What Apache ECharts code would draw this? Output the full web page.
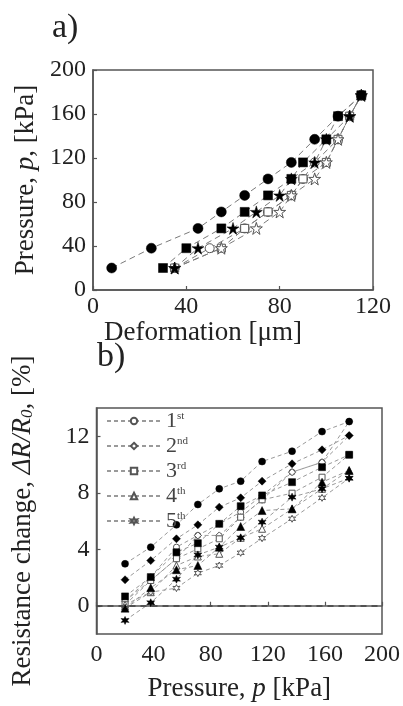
<!DOCTYPE html>
<html>
<head>
<meta charset="utf-8">
<script src="https://cdn.jsdelivr.net/npm/echarts@6/dist/echarts.min.js"></script>
<style>html,body{margin:0;padding:0;background:#fff}#c{width:403px;height:706px}</style>
</head>
<body>
<div id="c"></div>
<script>
// Shared pressure steps [kPa]
const pressure = [20, 38, 56, 71, 86, 101, 116, 137, 158, 177];

// Panel a) deformation [µm] at each pressure step
const defFilledCircle = [8, 25, 45, 55, 65, 75, 85, 95, 105, 115];
const defFilledSquare = [30, 40, 55, 65, 75, 85, 90, 100, 105, 115];
const defFilledStar   = [35, 45, 60, 70, 80, 85, 95, 100, 110, 115];
const defOpenCircle   = [35, 50, 65, 75, 85, 90, 95, 105, 110, 115];
const defOpenSquare   = [35, 55, 65, 75, 85, 90, 100, 105, 110, 115];
const defOpenStar     = [35, 55, 70, 80, 85, 95, 100, 105, 110, 115];

// Panel b) resistance change [%] – loading (filled markers)
const load1 = [2.97, 4.15, 5.73, 7.17, 8.28, 8.82, 10.21, 10.94, 12.33, 13.04];
const load2 = [1.84, 3.2, 4.74, 5.73, 6.98, 7.64, 8.82, 10.05, 11.04, 12.05];
const load3 = [0.66, 2.03, 3.79, 4.43, 5.8, 7.05, 7.81, 8.75, 9.81, 10.69];
const load4 = [-0.17, 1.27, 2.55, 2.85, 4.15, 5.61, 6.74, 6.86, 8.75, 9.58];
const load5 = [-1.04, 0.21, 1.88, 3.6, 4.15, 4.81, 5.92, 7.69, 8.28, 9.03];
// unloading (open markers, legend)
const cycle1 = [0.33, 2.03, 4.15, 4.98, 5.8, 6.63, 7.81, 9.46, 10.16, 13.04];
const cycle2 = [0.33, 1.79, 3.33, 4.98, 4.98, 6.27, 7.5, 9.46, 10.16, 12.05];
const cycle3 = [0.07, 1.79, 3.33, 4.03, 4.74, 6.27, 7.5, 7.97, 9.1, 10.69];
const cycle4 = [0.07, 0.96, 2.85, 3.49, 3.68, 4.81, 5.45, 6.86, 8.28, 9.58];
const cycle5 = [-0.17, 0.96, 1.25, 2.31, 2.85, 3.75, 4.78, 6.16, 7.64, 9.03];
const legendNames = ['1st', '2nd', '3rd', '4th', '5th'];

// Tick labels
const aXTicks = [0, 40, 80, 120];
const aYTicks = [0, 40, 80, 120, 160, 200];
const bXTicks = [0, 40, 80, 120, 160, 200];
const bYTicks = [0, 4, 8, 12];

const FONT = '"Liberation Serif", "DejaVu Serif", serif';
const STAR5 = 'path://M50,2 L61,37 L98,37 L68,59 L79,95 L50,73 L21,95 L32,59 L2,37 L39,37 Z';
const STAR6 = 'path://M50,0 L62,29 L93,25 L74,50 L93,75 L62,71 L50,100 L38,71 L7,75 L26,50 L7,25 L38,29 Z';

function pts(xs, ys) { return xs.map((x, i) => [x, ys[i]]); }

function ser(name, data, axis, symbol, filled, size, lineColor, dash, extra) {
  return Object.assign({
    name: name, type: 'line', xAxisIndex: axis, yAxisIndex: axis,
    data: data, symbol: symbol, symbolSize: size, showSymbol: true,
    animation: false, z: 3,
    lineStyle: { color: lineColor, width: 1, type: dash },
    itemStyle: filled ? { color: '#000', borderColor: '#000', borderWidth: 0.5 }
                      : { color: '#fff', borderColor: '#555', borderWidth: 1 }
  }, extra || {});
}

const aLine = '#7a7a7a', aDash = [6, 4];
const bLine = '#9a9a9a', bDash = [4, 3];

const series = [
  ser('a1', pts(defFilledCircle, pressure), 0, 'circle', true, 10, aLine, aDash),
  ser('a4', pts(defOpenCircle, pressure), 0, 'circle', false, 9, aLine, aDash),
  ser('a5', pts(defOpenSquare, pressure), 0, 'rect', false, 8, aLine, aDash),
  ser('a6', pts(defOpenStar, pressure), 0, STAR5, false, 12, aLine, aDash),
  ser('a2', pts(defFilledSquare, pressure), 0, 'rect', true, 9, aLine, aDash),
  ser('a3', pts(defFilledStar, pressure), 0, STAR5, true, 12, aLine, aDash),

  ser(legendNames[0], pts(pressure, cycle1), 1, 'circle', false, 6, bLine, bDash, {
    markLine: { silent: true, symbol: 'none', animation: false,
      label: { show: false },
      lineStyle: { color: '#444', width: 1.5, type: [6, 5] },
      data: [{ yAxis: 0 }] }
  }),
  ser(legendNames[1], pts(pressure, cycle2), 1, 'diamond', false, 7, bLine, bDash),
  ser(legendNames[2], pts(pressure, cycle3), 1, 'rect', false, 6, bLine, bDash),
  ser(legendNames[3], pts(pressure, cycle4), 1, 'triangle', false, 7, bLine, bDash),
  ser(legendNames[4], pts(pressure, cycle5), 1, STAR6, false, 7, bLine, bDash),
  ser('L1', pts(pressure, load1), 1, 'circle', true, 7, bLine, bDash),
  ser('L2', pts(pressure, load2), 1, 'diamond', true, 8, bLine, bDash),
  ser('L3', pts(pressure, load3), 1, 'rect', true, 7, bLine, bDash),
  ser('L4', pts(pressure, load4), 1, 'triangle', true, 8, bLine, bDash),
  ser('L5', pts(pressure, load5), 1, STAR6, true, 8, bLine, bDash)
];

const axisLineStyle = { show: true, lineStyle: { color: '#555', width: 1.5 } };
const tickStyle = { show: true, inside: true, length: 4, lineStyle: { color: '#555', width: 1.2 } };
const lblStyle = { fontFamily: FONT, fontSize: 24, color: '#222' };
const NS = 27;
const rich = {
  r: { fontFamily: FONT, fontSize: NS, color: '#222' },
  i: { fontFamily: FONT, fontSize: NS, fontStyle: 'italic', color: '#222' },
  sub: { fontFamily: FONT, fontSize: 17, fontStyle: 'italic', color: '#222', padding: [10, 0, 0, 0] }
};

const option = {
  backgroundColor: '#fff',
  animation: false,
  title: [
    { text: 'a)', left: 47, top: 6, textStyle: { fontFamily: FONT, fontSize: 34, fontWeight: 'normal', color: '#222' } },
    { text: 'b)', left: 92, top: 335, textStyle: { fontFamily: FONT, fontSize: 34, fontWeight: 'normal', color: '#222' } }
  ],
  grid: [
    { left: 93, top: 70, width: 280, height: 220, show: true, borderColor: '#555', borderWidth: 1.5, backgroundColor: 'transparent' },
    { left: 96.5, top: 408, width: 285.5, height: 226, show: true, borderColor: '#555', borderWidth: 1.5, backgroundColor: 'transparent' }
  ],
  legend: {
    data: legendNames,
    orient: 'vertical', left: 101, top: 405,
    itemWidth: 54, itemHeight: 8, itemGap: 3,
    formatter: function (n) { return '{n|' + n.charAt(0) + '}{s|' + n.slice(1) + '}'; },
    textStyle: {
      color: '#444', lineHeight: 19,
      rich: {
        n: { fontFamily: FONT, fontSize: 22, color: '#444', lineHeight: 19 },
        s: { fontFamily: FONT, fontSize: 11, color: '#444', padding: [0, 0, 9, 0] }
      }
    }
  },
  xAxis: [
    { type: 'value', gridIndex: 0, min: 0, max: 120, interval: 40,
      name: 'Deformation [μm]', nameLocation: 'middle', nameGap: 19,
      nameTextStyle: { fontFamily: FONT, fontSize: NS, color: '#222', padding: [0, 60, 0, 0] },
      axisLine: axisLineStyle, axisTick: tickStyle, splitLine: { show: false },
      axisLabel: Object.assign({ margin: 5, customValues: aXTicks }, lblStyle) },
    { type: 'value', gridIndex: 1, min: 0, max: 200, interval: 40,
      name: '{r|Pressure, }{i|p}{r| [kPa]}', nameLocation: 'middle', nameGap: 41,
      nameTextStyle: { rich: rich },
      axisLine: axisLineStyle, axisTick: tickStyle, splitLine: { show: false },
      axisLabel: Object.assign({ margin: 9, customValues: bXTicks }, lblStyle) }
  ],
  yAxis: [
    { type: 'value', gridIndex: 0, min: 0, max: 200, interval: 40,
      name: '{r|Pressure, }{i|p}{r|, [kPa]}', nameLocation: 'middle', nameGap: 54,
      nameTextStyle: { rich: rich },
      axisLine: axisLineStyle, axisTick: tickStyle, splitLine: { show: false },
      axisLabel: Object.assign({ margin: 7, customValues: aYTicks }, lblStyle) },
    { type: 'value', gridIndex: 1, min: -2, max: 14,
      name: '{r|Resistance change, }{i|ΔR/R}{sub|0}{i|,}{r| [%]}', nameLocation: 'middle', nameGap: 60,
      nameTextStyle: { rich: rich },
      axisLine: axisLineStyle,
      axisTick: Object.assign({ customValues: bYTicks }, tickStyle),
      splitLine: { show: false },
      axisLabel: Object.assign({ margin: 7, customValues: bYTicks }, lblStyle) }
  ],
  series: series
};

const chart = echarts.init(document.getElementById('c'), null, { renderer: 'canvas' });
chart.setOption(option);
</script>
</body>
</html>
